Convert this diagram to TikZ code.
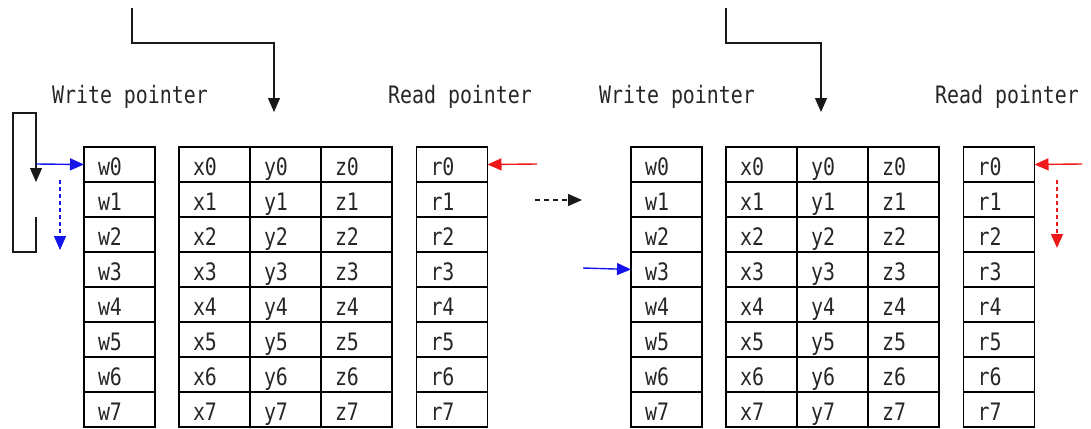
\documentclass[tikz,border=0pt]{standalone}
\usepackage{fontspec}
\newfontfamily\cellfont[FakeStretch=0.83]{DejaVu Sans Mono}
\usetikzlibrary{arrows.meta, positioning}
\definecolor{ptrblue}{RGB}{20,20,235}
\definecolor{ptrred}{RGB}{240,25,25}

\begin{document}
\begin{tikzpicture}[
		x=1pt, y=-1pt,
		every node/.style={font=\cellfont\fontsize{24}{26}\selectfont, text=black!85},
		cell/.style={draw, line width=1.1pt, minimum height=35pt, text width=43pt, inner xsep=14pt, inner ysep=0pt, outer sep=0pt, align=left, text height=21pt, text depth=0pt},
		tag/.style={anchor=base, inner sep=0pt},
		flow/.style={-{Triangle[width=12pt,length=14pt]}, line width=1.2pt, black!90},
		wptr/.style={-{Triangle[width=12pt,length=14pt]}, line width=1.4pt, ptrblue},
		rptr/.style={-{Triangle[width=12pt,length=14pt]}, line width=1.4pt, ptrred},
		move/.style={dash pattern=on 4pt off 3pt}
		]
		\useasboundingbox (0,0) rectangle (1091,428);
		% Two snapshots of the buffer
		\foreach \p/\dx in {L/0, R/547} {
			\foreach \i in {0,...,7} {
				\node[cell] (\p w\i) at (119.5+\dx, 164.5+35*\i) {w\i};
				\node[cell] (\p x\i) at (214.5+\dx, 164.5+35*\i) {x\i};
				\node[cell] (\p y\i) at (285.5+\dx, 164.5+35*\i) {y\i};
				\node[cell] (\p z\i) at (356.5+\dx, 164.5+35*\i) {z\i};
				\node[cell] (\p r\i) at (452+\dx, 164.5+35*\i) {r\i};
			}
			\draw[line width=2pt] (\p x3.south west) -- (\p z3.south east);
			\node[tag] (\p wlabel) at (130+\dx, 103) {Write pointer};
			\node[tag] (\p rlabel) at (460+\dx, 103) {Read pointer};
		}
		
		% Incoming data
		\coordinate (Ltop) at (132,8);
		\coordinate (Lbend) at (274,43);
		\coordinate (Ltip) at (274,112);
		\draw[flow] (Ltop) |- (Lbend) -- (Ltip);
		\coordinate (Rtop) at (726,8);
		\coordinate (Rbend) at (821,43);
		\coordinate (Rtip) at (821,112);
		\draw[flow] (Rtop) |- (Rbend) -- (Rtip);
		
		% Wrap around and pointers, left
		\coordinate (wrapin) at (36,217);
		\coordinate (wrapout) at (36,182);
		\draw[flow] (wrapin) -- (36,252) -| (13,113) -| (wrapout);
		\coordinate (Lwstart) at (36,164);
		\draw[wptr] (Lwstart) -- (Lw0.west);
		\coordinate (Lwmove) at (60,180);
		\coordinate (Lwnext) at (60,250);
		\draw[wptr, move] (Lwmove) -- (Lwnext);
		\coordinate (Lrstart) at (537,164);
		\draw[rptr] (Lrstart) -- (Lr0.east);
		
		% Next state
		\coordinate (stepfrom) at (535,200);
		\coordinate (stepto) at (582,200);
		\draw[flow, dash pattern=on 5pt off 4pt] (stepfrom) -- (stepto);
		
		% Pointers, right
		\coordinate (Rwstart) at (583,268);
		\draw[wptr] (Rwstart) -- (Rw3.west);
		\coordinate (Rrstart) at (1082,164);
		\draw[rptr] (Rrstart) -- (Rr0.east);
		\coordinate (Rrmove) at (1057,180);
		\coordinate (Rrnext) at (1057,248);
		\draw[rptr, move] (Rrmove) -- (Rrnext);
	\end{tikzpicture}
\end{document}
